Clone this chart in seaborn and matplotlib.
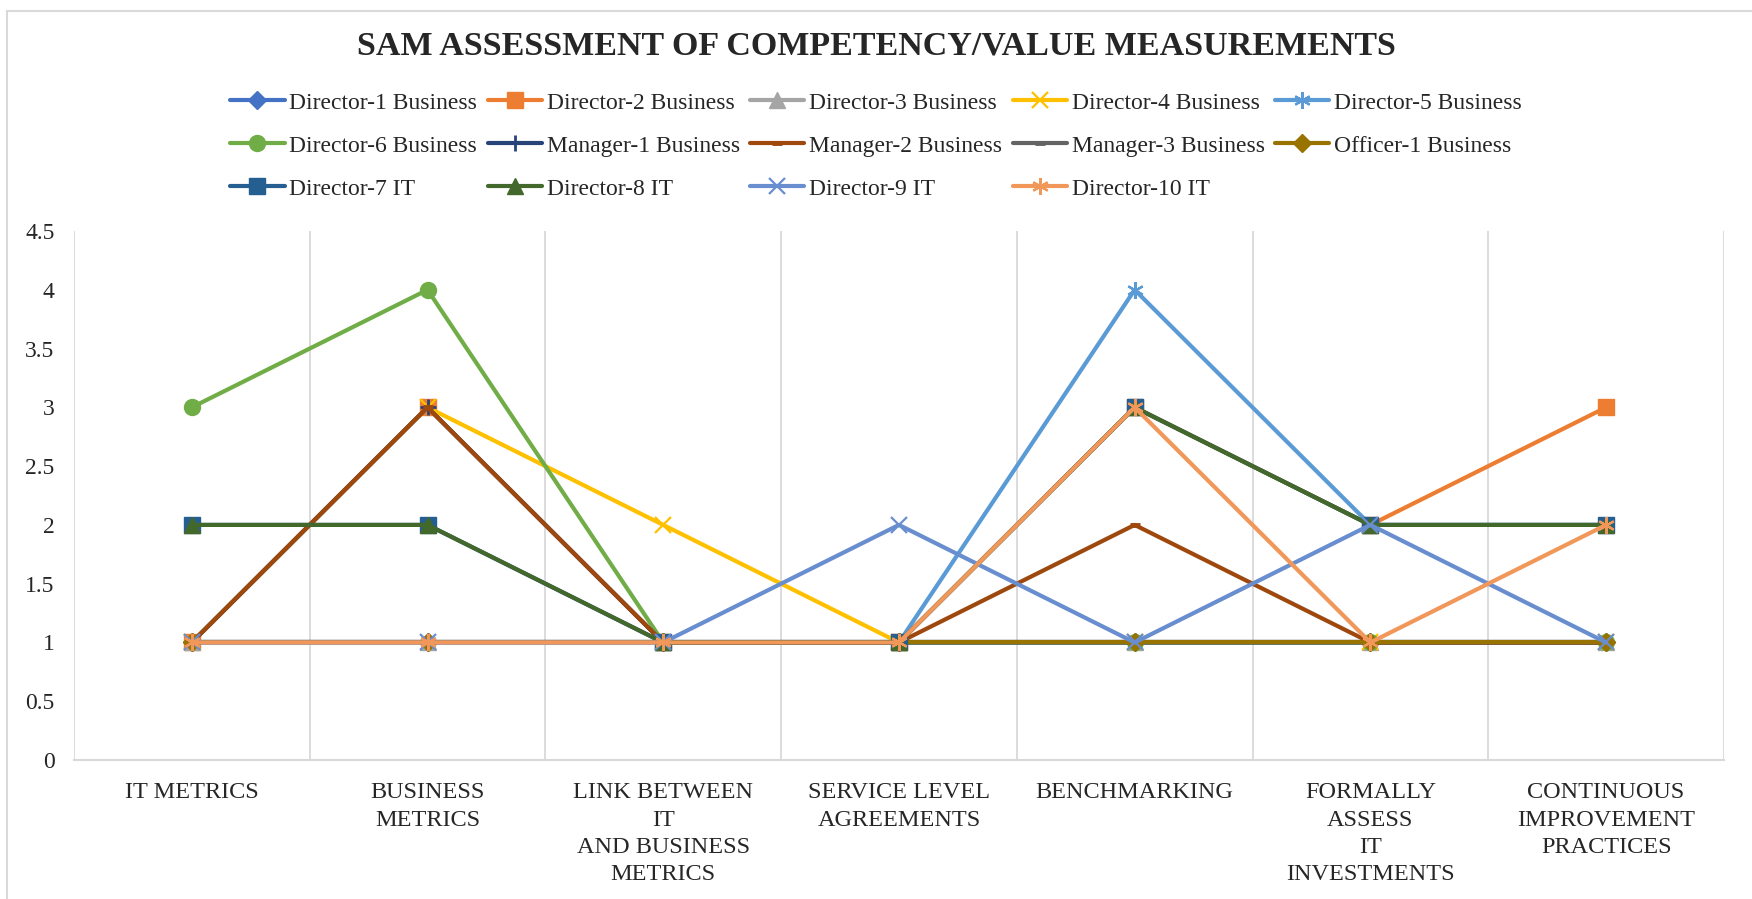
import numpy as np
import pandas as pd
import matplotlib.pyplot as plt
import seaborn as sns
from matplotlib.lines import Line2D
from matplotlib.ticker import MultipleLocator, FormatStrFormatter

# categories (x axis)
categories = ["IT METRICS", "BUSINESS\nMETRICS", "LINK BETWEEN\nIT\nAND BUSINESS\nMETRICS",
              "SERVICE LEVEL\nAGREEMENTS", "BENCHMARKING", "FORMALLY\nASSESS\nIT\nINVESTMENTS",
              "CONTINUOUS\nIMPROVEMENT\nPRACTICES"]

# scores per respondent
director1_business = [1, 1, 1, 1, 1, 1, 1]
director2_business = [1, 3, 1, 1, 3, 2, 3]
director3_business = [1, 1, 1, 1, 1, 1, 1]
director4_business = [1, 3, 2, 1, 1, 1, 1]
director5_business = [1, 1, 1, 1, 4, 2, 2]
director6_business = [3, 4, 1, 1, 1, 1, 1]
manager1_business = [1, 3, 1, 1, 1, 1, 1]
manager2_business = [1, 3, 1, 1, 2, 1, 1]
manager3_business = [1, 1, 1, 1, 1, 1, 1]
officer1_business = [1, 1, 1, 1, 1, 1, 1]
director7_it = [2, 2, 1, 1, 3, 2, 2]
director8_it = [2, 2, 1, 1, 3, 2, 2]
director9_it = [1, 1, 1, 2, 1, 2, 1]
director10_it = [1, 1, 1, 1, 3, 1, 2]

series_names = ["Director-1 Business", "Director-2 Business", "Director-3 Business",
                "Director-4 Business", "Director-5 Business", "Director-6 Business",
                "Manager-1 Business", "Manager-2 Business", "Manager-3 Business",
                "Officer-1 Business", "Director-7 IT", "Director-8 IT", "Director-9 IT",
                "Director-10 IT"]
series_values = [director1_business, director2_business, director3_business,
                 director4_business, director5_business, director6_business,
                 manager1_business, manager2_business, manager3_business,
                 officer1_business, director7_it, director8_it, director9_it,
                 director10_it]

colors = ["#4472C4", "#ED7D31", "#A5A5A5", "#FFC000", "#5B9BD5", "#70AD47",
          "#264478", "#9E480E", "#636363", "#997300", "#255E91", "#43682B",
          "#698ED0", "#F1975A"]
star = (6, 2, 0)
markers = ["D", "s", "^", "x", star, "o", "+", "_", "_", "D", "s", "^", "x", star]
msizes = [9, 11, 11, 11, 12, 11.5, 12, 7, 7, 9, 11, 11, 11, 12]
mews = [1, 1, 1, 1.6, 1.6, 1, 2, 3.5, 3.5, 1, 1, 1, 1.6, 1.6]

sns.set_style("white")
plt.rcParams['font.family'] = ['Liberation Serif', 'DejaVu Serif']

fig, ax = plt.subplots(figsize=(17.52, 8.99), dpi=100)
fig.subplots_adjust(left=0.0422, right=0.984, bottom=0.1546, top=0.743)

x_pos = np.arange(len(categories))
for name, vals, c, m, ms, mew in zip(series_names, series_values, colors, markers, msizes, mews):
    df = pd.DataFrame({"x": x_pos, "score": vals})
    sns.lineplot(data=df, x="x", y="score", color=c, marker=m, markersize=ms,
                 markeredgewidth=mew, markeredgecolor=c, markerfacecolor=c,
                 linewidth=3, label=name, ax=ax, sort=False, errorbar=None)

ax.set_xlim(-0.5, len(categories) - 0.5)
ax.set_ylim(0, 4.5)
ax.set_xticks(x_pos)
ax.set_xticklabels(categories, fontsize=17.5, linespacing=1.4)
ax.set_xticks(np.arange(-0.5, len(categories), 1), minor=True)
ax.yaxis.set_major_locator(MultipleLocator(0.5))
ax.yaxis.set_major_formatter(FormatStrFormatter('%g'))
ax.tick_params(axis='y', labelsize=17, length=0, pad=14)
ax.tick_params(axis='x', which='both', length=0, pad=16)
ax.grid(False)
ax.grid(which='minor', axis='x', color='#D9D9D9', linewidth=1.3)
for s in ['left', 'right', 'top']:
    ax.spines[s].set_visible(False)
ax.spines['bottom'].set_color('#D9D9D9')
ax.spines['bottom'].set_linewidth(1.5)
ax.set_xlabel("")
ax.set_ylabel("")

# legend, row-wise like the original (matplotlib fills columns first)
handles, labels = ax.get_legend_handles_labels()
order = [0, 5, 10, 1, 6, 11, 2, 7, 12, 3, 8, 13, 4, 9]
ax.legend_.remove()
fig.legend([handles[i] for i in order], [labels[i] for i in order], ncol=5,
           loc='upper center', bbox_to_anchor=(0.5, 0.8975), frameon=False,
           fontsize=17, handlelength=2.3, handletextpad=0.2, columnspacing=0.44,
           labelspacing=0.91, borderpad=0, borderaxespad=0)

fig.text(0.5, 0.949, "SAM ASSESSMENT OF COMPETENCY/VALUE MEASUREMENTS",
         ha='center', va='center', fontsize=24.5, fontweight='bold')

# chart area border
fig.add_artist(Line2D([7 / 1752, 1.0], [1 - 11 / 899, 1 - 11 / 899], color='#D9D9D9', lw=1.5))
fig.add_artist(Line2D([7 / 1752, 7 / 1752], [0, 1 - 11 / 899], color='#D9D9D9', lw=1.5))

fig.savefig("out.png", dpi=100)
